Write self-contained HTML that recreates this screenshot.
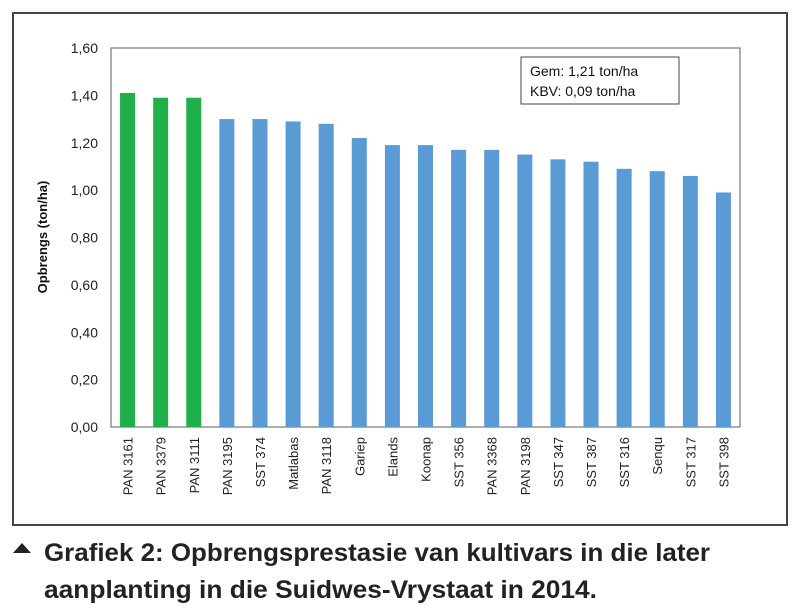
<!DOCTYPE html>
<html><head><meta charset="utf-8"><style>
html,body{margin:0;padding:0;background:#fff;}
svg{display:block;font-family:"Liberation Sans",Arial,sans-serif;}
</style></head><body>
<svg id="chart" width="800" height="616" viewBox="0 0 800 616">
<rect x="13" y="13" width="774" height="512" fill="#fff" stroke="#444" stroke-width="2"/>
<rect x="111" y="48" width="629" height="379" fill="#fff" stroke="#777" stroke-width="1.2"/>
<g id="yticks"></g>
<g id="bars"></g>
<g id="xlabels"></g>
<text x="0" y="0" transform="translate(47,237) rotate(-90)" text-anchor="middle" font-size="13" font-weight="bold" fill="#111">Opbrengs (ton/ha)</text>
<g>
<rect x="521" y="57" width="158" height="47" fill="#fff" stroke="#444" stroke-width="1"/>
<text x="530" y="76" font-size="14" fill="#111">Gem: 1,21 ton/ha</text>
<text x="530" y="96" font-size="14" fill="#111">KBV:  0,09 ton/ha</text>
</g>
<polygon points="13,553 22,543 31,553" fill="#222"/>
<text x="44" y="561" font-size="25" font-weight="bold" fill="#222" textLength="666" lengthAdjust="spacingAndGlyphs">Grafiek 2: Opbrengsprestasie van kultivars in die later</text>
<text x="44" y="598" font-size="25" font-weight="bold" fill="#222" textLength="553" lengthAdjust="spacingAndGlyphs">aanplanting in die Suidwes-Vrystaat in 2014.</text>
</svg>
<script>
const categories=["PAN 3161","PAN 3379","PAN 3111","PAN 3195","SST 374","Matlabas","PAN 3118","Gariep","Elands","Koonap","SST 356","PAN 3368","PAN 3198","SST 347","SST 387","SST 316","Senqu","SST 317","SST 398"];
const values=[1.41,1.39,1.39,1.30,1.30,1.29,1.28,1.22,1.19,1.19,1.17,1.17,1.15,1.13,1.12,1.09,1.08,1.06,0.99];
const highlighted=[true,true,true,false,false,false,false,false,false,false,false,false,false,false,false,false,false,false,false];
const yTicks=[0,0.2,0.4,0.6,0.8,1.0,1.2,1.4,1.6];
const NS="http://www.w3.org/2000/svg";
const X0=111,X1=740,Y0=427,Y1=48,YMAX=1.6;
const y=v=>Y0-(v/YMAX)*(Y0-Y1);
const band=(X1-X0)/categories.length;
const xc=i=>X0+band*(i+0.5);
const fmt=v=>v.toFixed(2).replace('.',',');
const yt=document.getElementById('yticks');
yTicks.forEach(t=>{
 const tx=document.createElementNS(NS,'text');
 
 
 tx.setAttribute('x',98);tx.setAttribute('y',y(t)+5);
 tx.setAttribute('text-anchor','end');tx.setAttribute('font-size','14');tx.setAttribute('fill','#222');
 tx.textContent=fmt(t);yt.appendChild(tx);
});
const bg=document.getElementById('bars'),xl=document.getElementById('xlabels');
values.forEach((v,i)=>{
 const r=document.createElementNS(NS,'rect');
 
 
 const w=15;
 r.setAttribute('x',xc(i)-w/2);r.setAttribute('width',w);
 r.setAttribute('y',y(v));r.setAttribute('height',Y0-y(v));
 r.setAttribute('fill',highlighted[i]?'#1faf4b':'#5b9bd5');
 bg.appendChild(r);
 const t=document.createElementNS(NS,'text');
 
 
 t.setAttribute('transform','translate('+(xc(i)+5)+',437) rotate(-90)');
 t.setAttribute('text-anchor','end');t.setAttribute('font-size','13');t.setAttribute('fill','#222');
 t.textContent=categories[i];xl.appendChild(t);
});
</script>
</body></html>
